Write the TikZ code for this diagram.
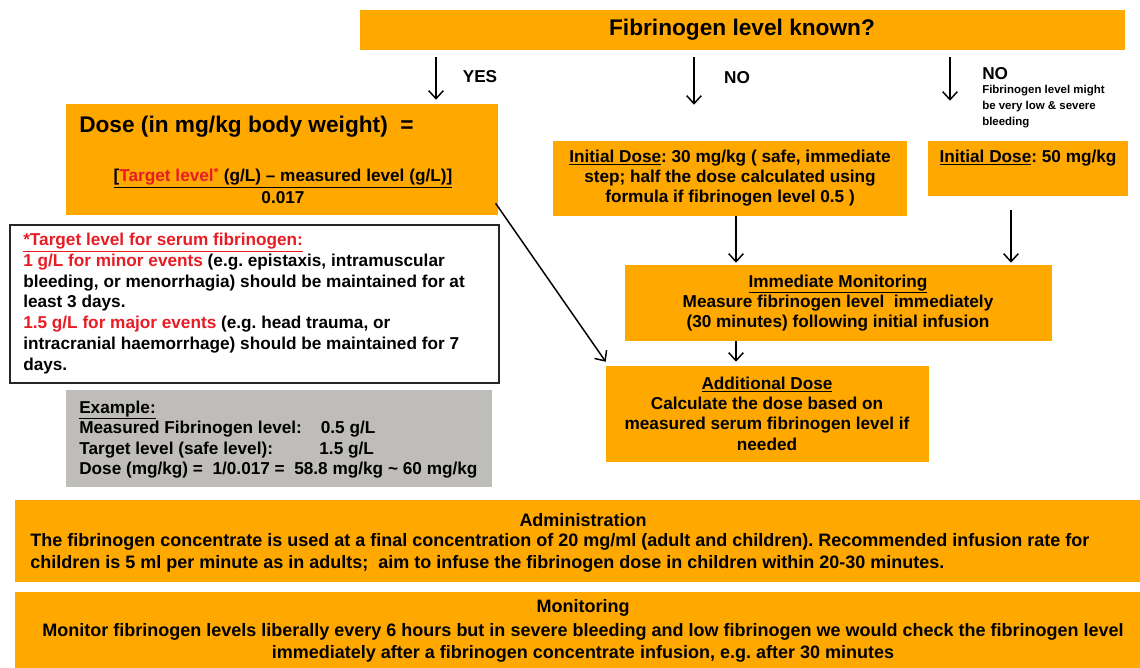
\documentclass[tikz,border=0pt]{standalone}
\usepackage{fontspec}
\setmainfont{Liberation Sans}
\usetikzlibrary{arrows.meta,fit}
\definecolor{obg}{RGB}{255,168,0}
\definecolor{gbg}{RGB}{191,189,185}
\definecolor{rtx}{RGB}{232,28,36}
\begin{document}
\frenchspacing
\begin{tikzpicture}[x=0.75pt,y=-0.75pt,
 obox/.style={fill=obg, draw=none, inner sep=0pt},
 wbox/.style={fill=white, draw=black!85, line width=1.1pt, inner sep=0pt},
 gbox/.style={fill=gbg, draw=none, inner sep=0pt},
 txt/.style={inner sep=0pt, font=\bfseries\fontsize{12.9}{15.3}\selectfont},
 bigtxt/.style={inner sep=0pt, font=\bfseries\fontsize{17}{20}\selectfont},
 smalltxt/.style={inner sep=0pt, font=\bfseries\fontsize{8.6}{12}\selectfont},
 bottxt/.style={inner sep=0pt, font=\bfseries\fontsize{13.5}{16.5}\selectfont},
 arr/.style={line width=1.1pt, -{Straight Barb[length=6pt,width=11pt,line width=1.1pt]}},
]
\useasboundingbox (0,0) rectangle (1140,668);

% boxes
\node[obox, fit={(360,10) (1125,50)}] (title) {};
\node[obox, fit={(66,104) (498,215)}] (dose) {};
\node[wbox, fit={(10,225) (499,383)}] (target) {};
\node[gbox, fit={(66,390) (492,487)}] (example) {};
\node[obox, fit={(553,141) (907,216)}] (ini30) {};
\node[obox, fit={(928,141) (1128,196)}] (ini50) {};
\node[obox, fit={(625,265) (1052,341)}] (immed) {};
\node[obox, fit={(606,366) (929,462)}] (add) {};
\node[obox, fit={(15,500) (1140,582)}] (admin) {};
\node[obox, fit={(15,592) (1140,668)}] (monit) {};

% texts
\node[bigtxt] (titletxt) at (742,30) {Fibrinogen level known?};
\node[txt] (yes) at (480,77) {YES};
\node[txt] (no1) at (737,78) {NO};
\node[txt, anchor=west] (no2) at (982,74) {NO};
\node[smalltxt, anchor=north west, align=left] (no2note) at (982,85) {Fibrinogen level might\\be very low \& severe\\bleeding};

\node[bigtxt, anchor=west] (dosetxt) at (79,127) {Dose (in mg/kg body weight)\ \ =};
\node[txt, align=center, font=\bfseries\fontsize{12.9}{16.5}\selectfont] (formula) at (283,186)
 {\underline{[\textcolor{rtx}{Target level}\textcolor{rtx}{\textsuperscript{*}} (g/L) -- measured level (g/L)]}\\0.017};

\node[txt, anchor=west, align=left, font=\bfseries\fontsize{12.9}{15.6}\selectfont] (targettxt) at (23,303.5)
 {\textcolor{rtx}{\underline{*Target level for serum fibrinogen:}}\\
 \textcolor{rtx}{1 g/L for minor events} (e.g. epistaxis, intramuscular\\
 bleeding, or menorrhagia) should be maintained for at\\
 least 3 days.\\
 \textcolor{rtx}{1.5 g/L for major events} (e.g. head trauma, or\\
 intracranial haemorrhage) should be maintained for 7\\
 days.};

\node[txt, anchor=west, align=left, font=\bfseries\fontsize{12.9}{15.4}\selectfont] (extxt) at (79,439.5)
 {\underline{Example:}\\
 Measured Fibrinogen level:\hspace{1.1em}0.5 g/L\\
 Target level (safe level):\hspace{2.7em}1.5 g/L\\
 Dose (mg/kg) =\ \ 1/0.017 =\ \ 58.8 mg/kg \textasciitilde\ 60 mg/kg};

\node[txt, align=center] (ini30txt) at (730,178)
 {\underline{Initial Dose}: 30 mg/kg ( safe, immediate\\step; half the dose calculated using\\formula if fibrinogen level 0.5 )};
\node[txt] (ini50txt) at (1028,158) {\underline{Initial Dose}: 50 mg/kg};

\node[txt, align=center] (immedtxt) at (838,303)
 {\underline{Immediate Monitoring}\\Measure fibrinogen level\ \ immediately\\(30 minutes) following initial infusion};

\node[txt, align=center] (addtxt) at (767,413.5)
 {\underline{Additional Dose}\\Calculate the dose based on\\measured serum fibrinogen level if\\needed};

\node[bottxt] (adminhead) at (583,520) {Administration};
\node[bottxt, anchor=west, align=left] (admintxt) at (30,553)
 {The fibrinogen concentrate is used at a final concentration of 20 mg/ml (adult and children). Recommended infusion rate for\\
 children is 5 ml per minute as in adults;\ \ aim to infuse the fibrinogen dose in children within 20-30 minutes.};

\node[bottxt] (monhead) at (583,608) {Monitoring};
\node[bottxt, align=center] (montxt) at (583,643)
 {Monitor fibrinogen levels liberally every 6 hours but in severe bleeding and low fibrinogen we would check the fibrinogen level\\
 immediately after a fibrinogen concentrate infusion, e.g. after 30 minutes};

% connectors
\coordinate (xa) at (436,0);
\coordinate (xb) at (694,0);
\coordinate (xc) at (950,0);
\coordinate (xd) at (736,0);
\coordinate (xe) at (1011,0);
\draw[arr, shorten <=5pt, shorten >=3pt] (xa |- title.south) -- (xa |- dose.north);
\draw[arr, shorten <=5pt, shorten >=27pt] (xb |- title.south) -- (xb |- ini30.north);
\draw[arr, shorten <=5pt, shorten >=30pt] (xc |- title.south) -- (xc |- ini50.north);
\draw[arr, shorten >=1.5pt] (xd |- ini30.south) -- (xd |- immed.north);
\draw[arr, shorten <=10pt, shorten >=1.5pt] (xe |- ini50.south) -- (xe |- immed.north);
\draw[arr, shorten >=3pt] (xd |- immed.south) -- (xd |- add.north);
\draw[arr] ([xshift=-2pt,yshift=9pt]dose.south east) -- ([yshift=3pt]add.north west);
\end{tikzpicture}
\end{document}
